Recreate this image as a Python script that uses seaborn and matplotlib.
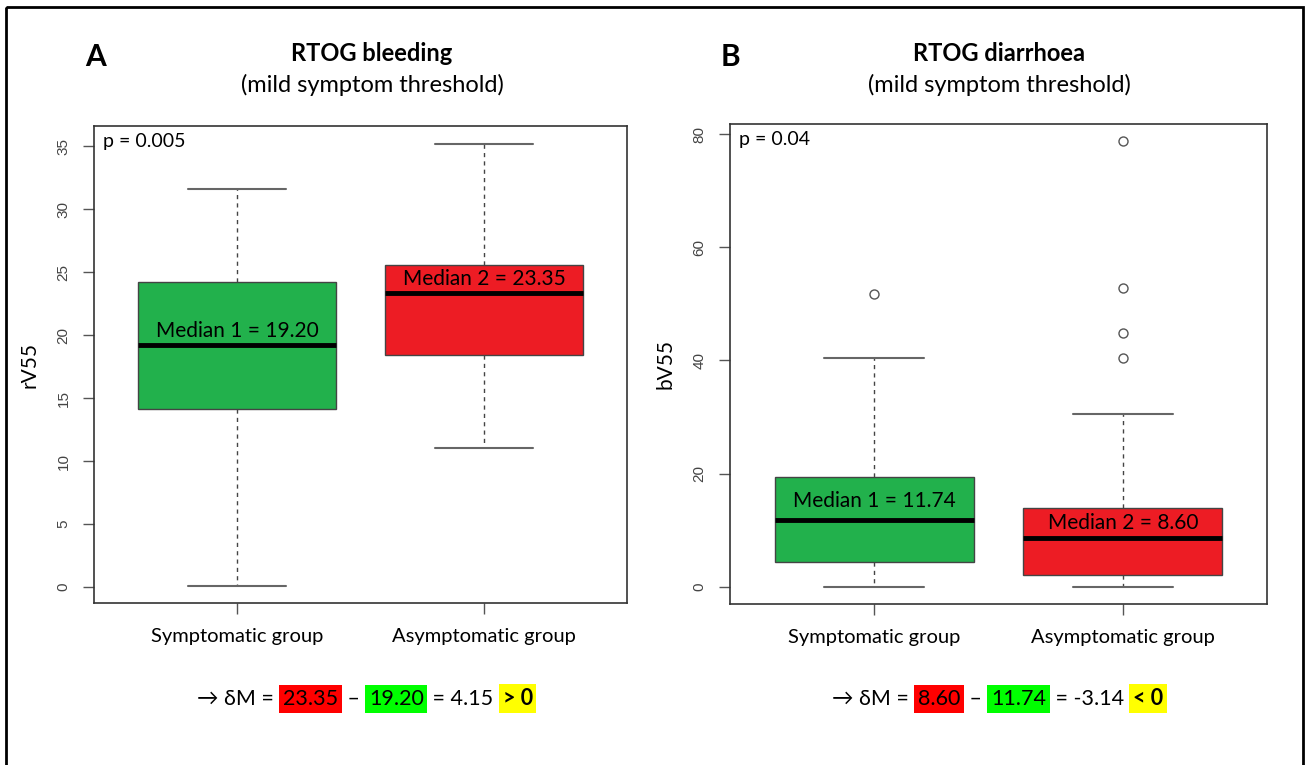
import numpy as np
import pandas as pd
import seaborn as sns
import matplotlib.pyplot as plt
from matplotlib.patches import Rectangle

groups = ["Symptomatic group", "Asymptomatic group"]

# box summaries: low whisker, Q1, median, Q3, high whisker
a_sym = [0.1, 14.1, 19.20, 24.2, 31.6]
a_asym = [11.0, 18.4, 23.35, 25.6, 35.2]
b_sym = [0.0, 4.3, 11.74, 19.4, 40.5]
b_asym = [0.0, 2.1, 8.60, 13.9, 30.6]
# points beyond the whiskers
a_sym_out = []
a_asym_out = []
b_sym_out = [51.8]
b_asym_out = [40.5, 44.8, 52.8, 78.8]

medians_a = ["19.20", "23.35"]
medians_b = ["11.74", "8.60"]
p_a = "p = 0.005"
p_b = "p = 0.04"

GREEN = "#22B14C"
RED = "#ED1C24"
TXT = ["Lato", "DejaVu Sans"]


def sample(stats, outliers, k=5):
    # a sorted sample whose quartiles / whiskers / fliers are exactly these values
    lo, q1, med, q3, hi = stats
    top = [hi] + list(outliers)
    top = [q3] * (k - len(top)) + top
    return [lo] + [q1] * k + [med] * k + [q3] * k + top


def frame(stats_sym, out_sym, stats_asym, out_asym):
    s1 = sample(stats_sym, out_sym)
    s2 = sample(stats_asym, out_asym)
    return pd.DataFrame({"group": [groups[0]] * len(s1) + [groups[1]] * len(s2),
                         "value": s1 + s2})


sns.set_theme(style="white")
plt.rcParams["font.family"] = TXT
plt.rcParams["text.color"] = "black"
plt.rcParams["xtick.color"] = "black"

fig = plt.figure(figsize=(13.06, 7.65), dpi=100)
bg = fig.add_axes([0, 0, 1, 1])
bg.set_axis_off()
bg.set_xlim(0, 1306)
bg.set_ylim(765, 0)
bg.add_patch(Rectangle((6, 7), 1297, 800, fill=False, edgecolor="black", linewidth=2, clip_on=False))

ax_a = fig.add_axes([94 / 1306, 1 - 603 / 765, 533 / 1306, 477 / 765])
ax_b = fig.add_axes([730 / 1306, 1 - 604 / 765, 537 / 1306, 480 / 765])

panels = [
    (ax_a, frame(a_sym, a_sym_out, a_asym, a_asym_out), (-1.27, 36.6), [0, 5, 10, 15, 20, 25, 30, 35],
     "rV55", medians_a, [a_sym[2], a_asym[2]], [10, 10], p_a),
    (ax_b, frame(b_sym, b_sym_out, b_asym, b_asym_out), (-3.05, 81.8), [0, 20, 40, 60, 80],
     "bV55", medians_b, [b_sym[2], b_asym[2]], [14, 11], p_b),
]

for ax, df, ylim, yticks, ylab, mlabels, mvals, moffs, ptxt in panels:
    sns.boxplot(data=df, x="group", y="value", hue="group", order=groups, hue_order=groups,
                palette=[GREEN, RED], saturation=1, width=0.8, whis=1.5, legend=False,
                linecolor="#444444", linewidth=1, ax=ax,
                medianprops=dict(color="black", linewidth=3.5),
                whiskerprops=dict(color="#444444", linestyle=(0, (3, 3)), linewidth=1),
                capprops=dict(color="#666666", linewidth=1.5),
                flierprops=dict(marker="o", markerfacecolor="none", markeredgecolor="#555555",
                                markersize=6.5, markeredgewidth=1))
    ax.set_xlim(-0.58, 1.58)
    ax.set_ylim(*ylim)
    ax.set_yticks(yticks)
    ax.set_xlabel("")
    ax.set_ylabel(ylab, fontsize=15, labelpad=12, color="black")
    for s in ax.spines.values():
        s.set_visible(True)
        s.set_color("#333333")
        s.set_linewidth(1.2)
    ax.tick_params(axis="y", left=True, length=8, width=1, color="#555555", pad=9,
                   labelsize=11, labelcolor="#444444")
    ax.tick_params(axis="x", bottom=True, length=8, width=1, color="#555555", pad=10,
                   labelsize=14.5, labelcolor="black")
    for lab in ax.get_yticklabels():
        lab.set_rotation(90)
        lab.set_va("center")
        lab.set_family("Liberation Sans")
    for i, (t, v, off) in enumerate(zip(mlabels, mvals, moffs)):
        ax.annotate(f"Median {i + 1} = {t}", xy=(i, v), xytext=(0, off), textcoords="offset points",
                    ha="center", va="center", fontsize=15)
    ax.text(0.016, 0.985, ptxt, transform=ax.transAxes, ha="left", va="top", fontsize=14)

# panel letters and titles
for x, letter, cx, title in [(85, "A", 372, "RTOG bleeding"), (721, "B", 999, "RTOG diarrhoea")]:
    bg.text(x, 57, letter, ha="left", va="center", fontsize=21.5, fontweight="bold")
    bg.text(cx, 53, title, ha="center", va="center", fontsize=17, fontweight="bold")
    bg.text(cx, 85, "(mild symptom threshold)", ha="center", va="center", fontsize=17)

FS = 15.5
PAD = 0.17


def formula(x0, y0, parts):
    t = bg.text(x0, y0, parts[0][0], ha="left", va="center", fontsize=FS)
    prev_hl = False
    for s, col, bold in parts[1:]:
        kw = {}
        gap = 0.0
        if col:
            kw["bbox"] = dict(facecolor=col, edgecolor="none", boxstyle=f"square,pad={PAD}")
            gap += PAD * FS
        if prev_hl:
            gap += PAD * FS
        t = bg.annotate(s, xy=(1, 0), xycoords=t, xytext=(gap, 0), textcoords="offset points",
                        ha="left", va="bottom", fontsize=FS,
                        fontweight="bold" if bold else "normal", **kw)
        prev_hl = bool(col)


formula(197, 699, [("→ δM = ", None, False), ("23.35", "#FF0000", False), (" – ", None, False),
                   ("19.20", "#00FF00", False), (" = 4.15 ", None, False), ("> 0", "#FFFF00", True)])
formula(832, 699, [("→ δM = ", None, False), ("8.60", "#FF0000", False), (" – ", None, False),
                   ("11.74", "#00FF00", False), (" = -3.14 ", None, False), ("< 0", "#FFFF00", True)])

fig.savefig("out.png", dpi=100)
